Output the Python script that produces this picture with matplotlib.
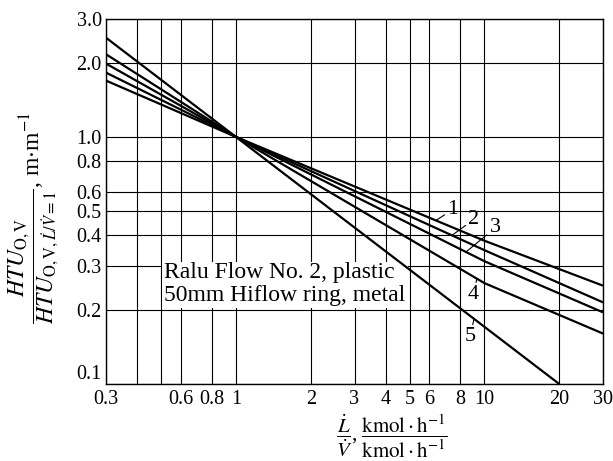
import matplotlib
matplotlib.use('Agg')
import matplotlib.pyplot as plt
import numpy as np
from matplotlib.patches import Rectangle
from matplotlib.ticker import NullLocator

# ---- data ----
line_x = [0.3, 1.0, 10.0, 30.0]
line1_y = [1.69, 1.0, 0.38, 0.25]
line2_y = [1.82, 1.0, 0.348, 0.214]
line3_y = [1.98, 1.0, 0.314, 0.195]
line4_y = [2.16, 1.0, 0.256, 0.16]
line5_x = [0.3, 1.0, 20.0]
line5_y = [2.52, 1.0, 0.1]
line_names = ['1', '2', '3', '4', '5']

x_ticks = [0.3, 0.4, 0.5, 0.6, 0.8, 1, 2, 3, 4, 5, 6, 8, 10, 20, 30]
x_tick_labels = ['0.3', '', '', '0.6', '0.8', '1', '2', '3', '4', '5', '6', '8', '10', '20', '30']
y_ticks = [0.1, 0.2, 0.3, 0.4, 0.5, 0.6, 0.8, 1.0, 2.0, 3.0]
y_tick_labels = ['0.1', '0.2', '0.3', '0.4', '0.5', '0.6', '0.8', '1.0', '2.0', '3.0']

legend_lines = ['Ralu Flow No. 2, plastic', '50mm Hiflow ring, metal']

# ---- style ----
plt.rcParams['font.family'] = ['Liberation Serif', 'DejaVu Serif']
plt.rcParams['mathtext.fontset'] = 'stix'

fig = plt.figure(figsize=(6.13, 4.61), dpi=100)
W, H = 613, 461
ax = fig.add_axes([106 / W, 1 - 384 / H, (603 - 106) / W, (384 - 19) / H])
ax.set_xscale('log')
ax.set_yscale('log')
ax.set_xlim(0.3, 30)
ax.set_ylim(0.1, 3.0)

ax.set_xticks(x_ticks)
ax.set_xticklabels(x_tick_labels)
ax.set_yticks(y_ticks)
ax.set_yticklabels(y_tick_labels)
ax.xaxis.set_minor_locator(NullLocator())
ax.yaxis.set_minor_locator(NullLocator())
ax.tick_params(length=0, labelsize=14.5, pad=3)
ax.tick_params(axis='x', pad=4)
ax.set_axisbelow(True)
ax.grid(True, color='black', lw=0.8)
for s in ax.spines.values():
    s.set_linewidth(1.0)
# the lowest y label sits just above the bottom line, as in the reference
ax.get_yticklabels()[0].set_verticalalignment('bottom')

series = [(line_x, line1_y), (line_x, line2_y), (line_x, line3_y),
          (line_x, line4_y), (line5_x, line5_y)]
for xs, ys in series:
    ax.plot(xs, ys, color='black', lw=1.6, zorder=3, solid_capstyle='butt')

# white text panel
ax.add_patch(Rectangle((0.506, 0.203), 4.94 - 0.506, 0.312 - 0.203,
                       facecolor='white', edgecolor='none', zorder=1.5))
ax.text(0.512, 0.2694, legend_lines[0], fontsize=17, va='baseline', ha='left', zorder=2)
ax.text(0.512, 0.217, legend_lines[1], fontsize=17, va='baseline', ha='left', zorder=2)

# curve labels with leaders
label_at_x = [6.38, 7.4, 8.43, 9.33, 9.08]
label_offsets = [(17, 11), (22, 16), (29, 24), (-4, -16), (-4, -18)]
for (xs, ys), name, lx, off in zip(series, line_names, label_at_x, label_offsets):
    ly = 10 ** np.interp(np.log10(lx), np.log10(xs), np.log10(ys))
    ax.annotate(name, xy=(lx, ly), xytext=off, textcoords='offset pixels',
                ha='center', va='center', fontsize=16, zorder=4,
                arrowprops=dict(arrowstyle='-', lw=0.8, color='black',
                                shrinkA=0, shrinkB=0))

# axis labels
fig.text(392 / W, 1 - 436 / H,
         r'$\dfrac{\dot{L}}{\dot{V}}$, $\dfrac{\mathrm{kmol\cdot h^{-1}}}{\mathrm{kmol\cdot h^{-1}}}$',
         ha='center', va='center', fontsize=15)
fig.text(34 / W, 1 - 218 / H,
         r'$\dfrac{HTU_{\mathrm{O,V}}}{HTU_{\mathrm{O,V},\dot{L}/\dot{V}=1}}$, m$\cdot$m$^{-1}$',
         ha='center', va='center', rotation=90, fontsize=17)

fig.savefig('out.png', dpi=100)
